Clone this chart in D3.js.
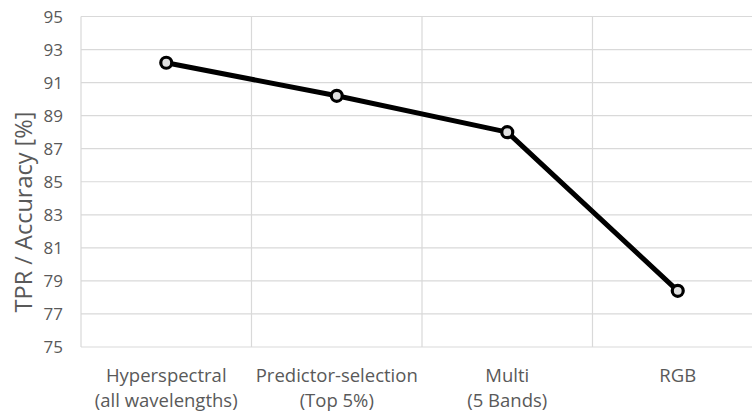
<!DOCTYPE html>
<html><head><meta charset="utf-8">
<script src="https://cdn.jsdelivr.net/npm/d3@7"></script>
<style>body{margin:0;background:#fff}svg{display:block}</style>
</head><body>
<svg id="c" width="752" height="415"></svg>
<script>
const categories = [["Hyperspectral","(all wavelengths)"],["Predictor-selection","(Top 5%)"],["Multi","(5 Bands)"],["RGB",""]];
const values = [92.2, 90.2, 88.0, 78.4];
const yTicks = [75,77,79,81,83,85,87,89,91,93,95];
const yTitle = "TPR / Accuracy [%]";

(function(){
const svg = d3.select("#c");
const pl = 81, pr = 763, pt = 16.5, pb = 347;
const x = d3.scaleBand().domain(d3.range(categories.length)).range([pl, pr]);
const y = d3.scaleLinear().domain([75,95]).range([pb, pt]);
const font = "'Open Sans', Lato, sans-serif";

svg.append("g").selectAll("line").data(yTicks).join("line")
  .attr("x1", pl).attr("x2", pr)
  .attr("y1", d=>y(d)).attr("y2", d=>y(d))
  .attr("stroke", "#d9d9d9").attr("stroke-width", 1.2);
svg.append("g").selectAll("line").data(d3.range(categories.length)).join("line")
  .attr("x1", d=>x(d)).attr("x2", d=>x(d))
  .attr("y1", pt).attr("y2", pb)
  .attr("stroke", "#d9d9d9").attr("stroke-width", 1.2);

svg.append("g").selectAll("text").data(yTicks).join("text")
  .attr("x", 63).attr("y", d=>y(d)).attr("dy","0.36em")
  .attr("text-anchor","end").attr("font-family", font).attr("font-size", 17)
  .attr("fill","#595959").text(d=>d);

const lines = [0,1];
lines.forEach(li => {
  svg.append("g").selectAll("text").data(categories.filter(d=>d[li])).join("text")
    .attr("x", d=>x(categories.indexOf(d))+x.bandwidth()/2)
    .attr("y", li === 0 ? 381.5 : 407)
    .attr("text-anchor","middle").attr("font-family", font).attr("font-size", 18.5)
    .attr("fill","#595959").text(d=>d[li]);
});

svg.append("text").attr("transform", `translate(32,212) rotate(-90)`)
  .attr("text-anchor","middle").attr("font-family", font).attr("font-size", 23.5)
  .attr("fill","#595959").text(yTitle);

const line = d3.line().x((d,i)=>x(i)+x.bandwidth()/2).y(d=>y(d));
svg.append("path").datum(values).attr("d", line)
  .attr("fill","none").attr("stroke","#000").attr("stroke-width",5).attr("stroke-linejoin","round");
svg.append("g").selectAll("circle").data(values).join("circle")
  .attr("cx",(d,i)=>x(i)+x.bandwidth()/2).attr("cy", d=>y(d)).attr("r",5.5)
  .attr("fill","#e0e0e0").attr("stroke","#000").attr("stroke-width",3.2);
})();
</script>
</body></html>
